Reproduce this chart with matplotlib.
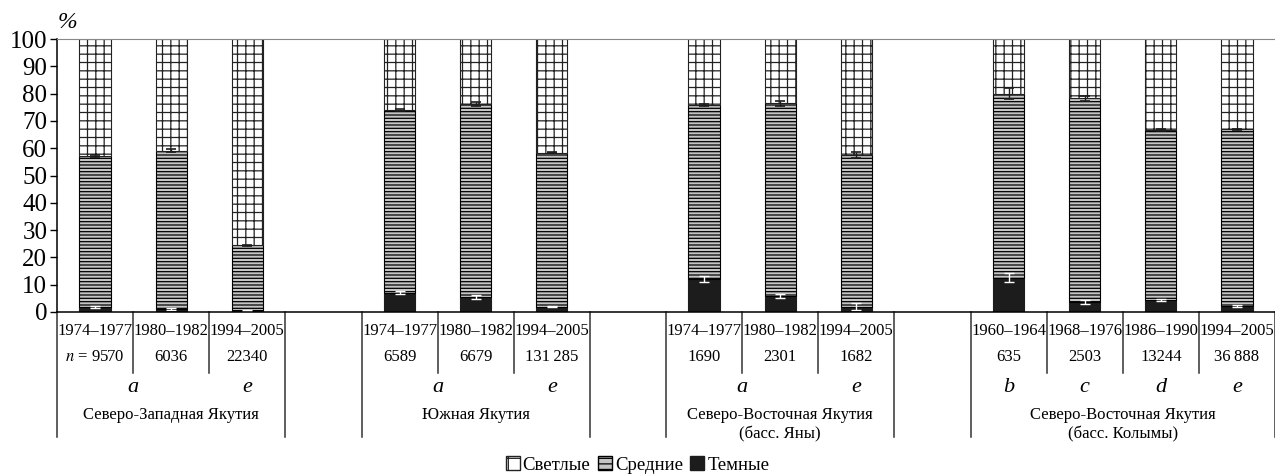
import matplotlib
matplotlib.use("Agg")
import matplotlib.pyplot as plt
from matplotlib.patches import Patch
import numpy as np

plt.rcParams['font.family'] = ['Liberation Serif', 'DejaVu Serif']
plt.rcParams['mathtext.fontset'] = 'stix'
plt.rcParams['hatch.linewidth'] = 0.9

# slot index of every bar (empty slots separate the regions)
slots = [0, 1, 2, 4, 5, 6, 8, 9, 10, 12, 13, 14, 15]
periods = ['1974–1977', '1980–1982', '1994–2005',
           '1974–1977', '1980–1982', '1994–2005',
           '1974–1977', '1980–1982', '1994–2005',
           '1960–1964', '1968–1976', '1986–1990', '1994–2005']
n_labels = ['$n$ = 9570', '6036', '22340',
            '6589', '6679', '131\u2009285',
            '1690', '2301', '1682',
            '635', '2503', '13244', '36\u2009888']
sources = ['a', 'a', 'e', 'a', 'a', 'e', 'a', 'a', 'e', 'b', 'c', 'd', 'e']
regions = ['Северо-Западная Якутия', 'Южная Якутия',
           'Северо-Восточная Якутия\n(басс. Яны)',
           'Северо-Восточная Якутия\n(басс. Колымы)']
region_of_bar = [0, 0, 0, 1, 1, 1, 2, 2, 2, 3, 3, 3, 3]

# percentages
dark = [1.8, 1.2, 0.6, 7.1, 5.4, 2.0, 12.0, 5.9, 2.0, 12.6, 3.7, 4.4, 2.2]
dark_mid = [57.2, 59.1, 24.5, 74.0, 76.2, 58.4, 75.8, 76.4, 57.5, 79.9, 78.3, 66.7, 67.0]
dark_err = [0.4, 0.3, 0.2, 0.6, 0.7, 0.3, 1.1, 0.8, 1.2, 1.7, 0.8, 0.5, 0.3]
mid_err = [0.4, 0.5, 0.2, 0.5, 0.6, 0.3, 0.3, 1.0, 1.0, 2.0, 1.0, 0.4, 0.2]

n_slots = 16
x = np.array(slots) + 0.5
dark = np.array(dark)
dark_mid = np.array(dark_mid)
mid = dark_mid - dark
light = 100 - dark_mid

fig = plt.figure(figsize=(12.75, 4.75), dpi=100)
ax = fig.add_axes([57 / 1275, 163 / 475, 1218 / 1275, 273 / 475])

w = 0.41
ax.bar(x, dark, w, color='#1c1c1c', edgecolor='#1c1c1c', linewidth=0.8)
ax.bar(x, mid, w, bottom=dark, color='#c4c4c4', edgecolor='black',
       hatch='-----', linewidth=0.8)
ax.bar(x, light, w, bottom=dark_mid, color='white', edgecolor='#222222',
       hatch='++', linewidth=0.8)
ax.errorbar(x, dark, yerr=dark_err, fmt='none', ecolor='white', elinewidth=1,
            capsize=3.5, capthick=1)
ax.errorbar(x, dark_mid, yerr=mid_err, fmt='none', ecolor='#1c1c1c',
            elinewidth=1, capsize=3.5, capthick=1.2)

ax.set_xlim(0, n_slots)
ax.set_ylim(0, 100)
ax.set_yticks(range(0, 101, 10))
ax.set_xticks([])
ax.tick_params(axis='y', direction='out', length=5, width=1, labelsize=18, pad=2)
ax.spines['right'].set_visible(False)
ax.spines['top'].set_color('#888888')
ax.spines['left'].set_linewidth(1.1)
ax.spines['bottom'].set_linewidth(1.1)
fig.text(58 / 1275, 1 - 23 / 475, '%', fontsize=17, style='italic',
         ha='left', va='center')

# table under the bars (y in data units below 0)
y_period, y_n, y_inner, y_src, y_reg, y_reg2, y_outer = -7.0, -16.5, -22.3, -27.5, -37.7, -41.2, -45.8
line_kw = dict(color='#333333', lw=1.1, clip_on=False)

for xi, p, nl in zip(x, periods, n_labels):
    ax.text(xi, y_period, p, ha='center', va='center', fontsize=12)
    ax.text(xi, y_n, nl, ha='center', va='center', fontsize=12)

for r, name in enumerate(regions):
    idx = [i for i, g in enumerate(region_of_bar) if g == r]
    left = slots[idx[0]]
    right = slots[idx[-1]] + 1
    ax.plot([left, left], [0, y_outer], **line_kw)
    ax.plot([right, right], [0, y_outer], **line_kw)
    for i in idx[1:]:
        ax.plot([slots[i], slots[i]], [0, y_inner], **line_kw)
    ax.text((left + right) / 2, y_reg2 if '\n' in name else y_reg,
            name, ha='center', va='center', fontsize=12, linespacing=1.25)

# source letters centred over runs of the same letter within a region
i = 0
while i < len(sources):
    j = i
    while j + 1 < len(sources) and sources[j + 1] == sources[i] \
            and region_of_bar[j + 1] == region_of_bar[i]:
        j += 1
    ax.text((x[i] + x[j]) / 2, y_src, sources[i], ha='center', va='center',
            fontsize=16, style='italic')
    i = j + 1

handles = [Patch(facecolor='white', edgecolor='#222222', hatch='+', label='Светлые'),
           Patch(facecolor='#c4c4c4', edgecolor='black', hatch='---', label='Средние'),
           Patch(facecolor='#1c1c1c', edgecolor='#1c1c1c', label='Темные')]
fig.legend(handles=handles, loc='center', bbox_to_anchor=(0.5, 10 / 475), ncol=3,
           frameon=False, fontsize=13.5, handlelength=0.75, handleheight=0.75,
           handletextpad=0.15, columnspacing=0.4, borderpad=0)

fig.savefig('out.png', dpi=100)
